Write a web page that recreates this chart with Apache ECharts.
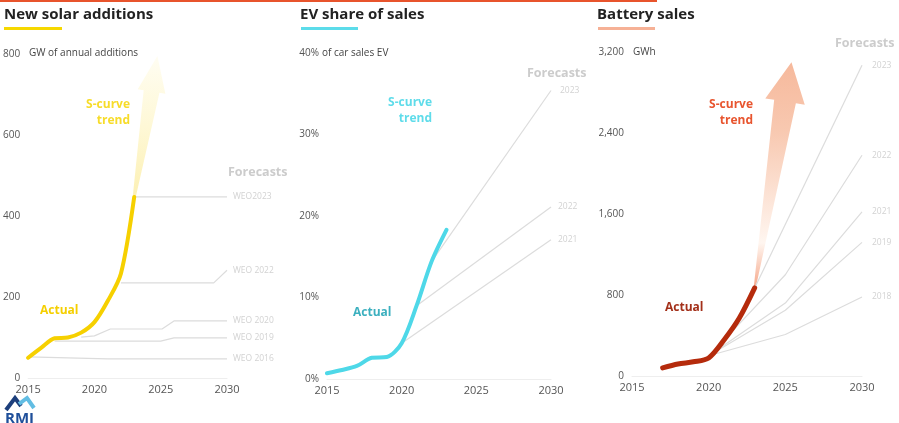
<!DOCTYPE html>
<html>
<head>
<meta charset="utf-8">
<script src="https://cdn.jsdelivr.net/npm/echarts@6/dist/echarts.min.js"></script>
<style>
  html, body { margin: 0; padding: 0; background: #fff; }
  #chart { width: 899px; height: 423px; }
</style>
</head>
<body>
<div id="chart"></div>
<script>
// shared x ticks
const xTicks = [2015, 2020, 2025, 2030]

// New solar additions (GW)
const solarYears = [2015, 2016, 2017, 2018, 2019, 2020, 2021, 2022, 2023]
const solarActual = [50, 75, 98, 100, 112, 138, 190, 258, 447]
const weo2023 = [[2023, 447], [2030, 447]]
const weo2022 = [[2022, 235], [2029, 235], [2030, 266]]
const weo2020 = [[2019, 101], [2020, 104], [2021.2, 121], [2025.1, 121], [2026, 141], [2030, 141]]
const weo2019 = [[2017, 91], [2025, 91], [2026, 99], [2030, 99]]
const weo2016 = [[2015, 52], [2021, 47], [2030, 47]]
const solarArrow = [[2023, 447], [2024.75, 795]]

// EV share of sales (%)
const evYears = [2015, 2016, 2017, 2018, 2019, 2020, 2021, 2022, 2023]
const evActual = [0.7, 1.1, 1.6, 2.6, 2.7, 4.4, 9.0, 14.4, 18.3]
const ev2023 = [[2022, 14.4], [2030, 35.4]]
const ev2022 = [[2021, 9.0], [2030, 21.1]]
const ev2021 = [[2020, 4.4], [2030, 17.1]]

// Battery sales (GWh)
const batYears = [2017, 2018, 2019, 2020, 2021, 2022, 2023]
const batActual = [80, 118, 140, 178, 355, 572, 870]
const bat2023 = [[2023, 870], [2030, 3070]]
const bat2022 = [[2021, 355], [2025, 1000], [2030, 2180]]
const bat2021 = [[2020, 200], [2025, 720], [2030, 1620]]
const bat2019 = [[2020, 200], [2025, 650], [2030, 1320]]
const bat2018 = [[2020, 200], [2025, 410], [2030, 780]]
const batArrow = [[2023, 870], [2025.4, 3100]]

const FONT = 'Open Sans'
const grey = '#dcdcdc'

const chart = echarts.init(document.getElementById('chart'))

const actual = (i, xs, ys, color, width) => ({
  type: 'line', xAxisIndex: i, yAxisIndex: i,
  data: xs.map((x, k) => [x, ys[k]]),
  smooth: 0.3, symbol: 'none', z: 5,
  lineStyle: { color, width, cap: 'round', join: 'round' }
})

const forecast = (i, data, name, dist) => ({
  type: 'line', xAxisIndex: i, yAxisIndex: i, data,
  symbol: 'none', z: 2,
  lineStyle: { color: grey, width: 1.2 },
  endLabel: { show: true, formatter: name, color: '#d2d2d2', fontSize: 8.5, fontFamily: FONT, distance: dist }
})

const xAxis = i => ({
  type: 'value', gridIndex: i, min: 2015, max: 2030, interval: 5,
  axisLine: { show: true, lineStyle: { color: '#eeeeee' } },
  axisTick: { show: false }, splitLine: { show: false },
  axisLabel: { formatter: v => String(v), color: '#555', fontSize: 11, fontFamily: FONT, margin: 6 }
})

const yAxis = (i, max, interval, fmt) => ({
  type: 'value', gridIndex: i, min: 0, max, interval,
  axisLine: { show: false }, axisTick: { show: false }, splitLine: { show: false },
  axisLabel: { formatter: fmt, color: '#555', fontSize: 10, fontFamily: FONT, margin: 8 }
})

const text = (x, y, t, size, color, weight, align) => ({
  type: 'text', x, y, silent: true,
  style: { text: t, fill: color, fontSize: size, fontFamily: FONT, fontWeight: weight || 'normal', align: align || 'left', verticalAlign: 'middle' }
})

const rect = (x, y, w, h, color) => ({
  type: 'rect', shape: { x, y, width: w, height: h }, style: { fill: color }, silent: true
})

const option = {
  animation: false,
  grid: [
    { left: 27, top: 54, width: 200, height: 324 },
    { left: 327, top: 53, width: 224, height: 326 },
    { left: 632, top: 52, width: 230, height: 324 }
  ],
  xAxis: [xAxis(0), xAxis(1), xAxis(2)],
  yAxis: [
    yAxis(0, 800, 200, v => String(v)),
    yAxis(1, 40, 10, '{value}%'),
    yAxis(2, 3200, 800)
  ],
  series: [
    forecast(0, weo2023, 'WEO2023', 6),
    forecast(0, weo2022, 'WEO 2022', 6),
    forecast(0, weo2020, 'WEO 2020', 6),
    forecast(0, weo2019, 'WEO 2019', 6),
    forecast(0, weo2016, 'WEO 2016', 6),
    actual(0, solarYears, solarActual, '#f6d000', 4),
    forecast(1, ev2023, '2023', 9),
    forecast(1, ev2022, '2022', 7),
    forecast(1, ev2021, '2021', 7),
    actual(1, evYears, evActual, '#4ed8e8', 4),
    forecast(2, bat2023, '2023', 10),
    forecast(2, bat2022, '2022', 10),
    forecast(2, bat2021, '2021', 10),
    forecast(2, bat2019, '2019', 10),
    forecast(2, bat2018, '2018', 10),
    actual(2, batYears, batActual, '#b52b0c', 5)
  ],
  graphic: [
    rect(0, 0, 657, 2, '#e8542c'),
    text(4, 15, 'New solar additions', 15, '#222', 'bold'),
    rect(4, 27, 58, 3, '#f6d800'),
    text(300, 15, 'EV share of sales', 15, '#222', 'bold'),
    rect(301, 27, 57, 3, '#5cdcea'),
    text(597, 15, 'Battery sales', 15, '#222', 'bold'),
    rect(598, 27, 57, 3, '#f6b196'),
    text(29, 53, 'GW of annual additions', 10, '#444'),
    text(322, 53, 'of car sales EV', 10, '#444'),
    text(633, 52, 'GWh', 10, '#444'),
    text(130, 105, 'S-curve', 12, '#f7dc2a', 'bold', 'right'),
    text(130, 121, 'trend', 12, '#f7dc2a', 'bold', 'right'),
    text(432, 103, 'S-curve', 12, '#5fdcea', 'bold', 'right'),
    text(432, 119, 'trend', 12, '#5fdcea', 'bold', 'right'),
    text(753, 105, 'S-curve', 12, '#e8552f', 'bold', 'right'),
    text(753, 121, 'trend', 12, '#e8552f', 'bold', 'right'),
    text(40, 311, 'Actual', 12, '#f5cf00', 'bold'),
    text(353, 313, 'Actual', 12, '#3cb0bf', 'bold'),
    text(665, 308, 'Actual', 12, '#a3301a', 'bold'),
    text(228, 172, 'Forecasts', 12.5, '#cccccc', 'bold'),
    text(527, 73, 'Forecasts', 12.5, '#cccccc', 'bold'),
    text(835, 43, 'Forecasts', 12.5, '#cccccc', 'bold'),
    // RMI logo
    { type: 'polyline', shape: { points: [[6, 410], [15, 398], [21, 406]] }, style: { stroke: '#1d3f7c', lineWidth: 4, fill: null }, silent: true },
    { type: 'polyline', shape: { points: [[19, 404], [27, 398], [34, 408]] }, style: { stroke: '#62bde3', lineWidth: 4, fill: null }, silent: true },
    text(5, 419, 'RMI', 15, '#1f4f9a', 'bold')
  ]
}

chart.setOption(option)

// S-curve arrows, placed through the axes' own scales
const arrow = (gridIndex, pts, headLen, headHalf, stemHalf, baseHalf, stops) => {
  const b = chart.convertToPixel({ gridIndex }, pts[0])
  const t = chart.convertToPixel({ gridIndex }, pts[1])
  const len = Math.hypot(t[0] - b[0], t[1] - b[1])
  const d = [(t[0] - b[0]) / len, (t[1] - b[1]) / len]
  const n = [-d[1], d[0]]
  const h = [t[0] - d[0] * headLen, t[1] - d[1] * headLen]
  const off = (p, s) => [p[0] + n[0] * s, p[1] + n[1] * s]
  return {
    type: 'polygon', silent: true, z: 1,
    shape: { points: [off(b, baseHalf), off(h, stemHalf), off(h, headHalf), t, off(h, -headHalf), off(h, -stemHalf), off(b, -baseHalf)] },
    style: { fill: new echarts.graphic.LinearGradient(0, 0, 0, 1, stops) }
  }
}

chart.setOption({
  graphic: option.graphic.concat([
    arrow(0, solarArrow, 36, 14, 8, 1.5, [
      { offset: 0, color: '#fffdf2' },
      { offset: 0.5, color: '#fef8d6' },
      { offset: 1, color: '#fcf0b4' }
    ]),
    arrow(2, batArrow, 40, 20, 11, 1, [
      { offset: 0, color: '#f6b99c' },
      { offset: 0.3, color: '#f8c8b0' },
      { offset: 0.8, color: '#fff6f0' },
      { offset: 1, color: '#f5a688' }
    ])
  ])
})
</script>
</body>
</html>
